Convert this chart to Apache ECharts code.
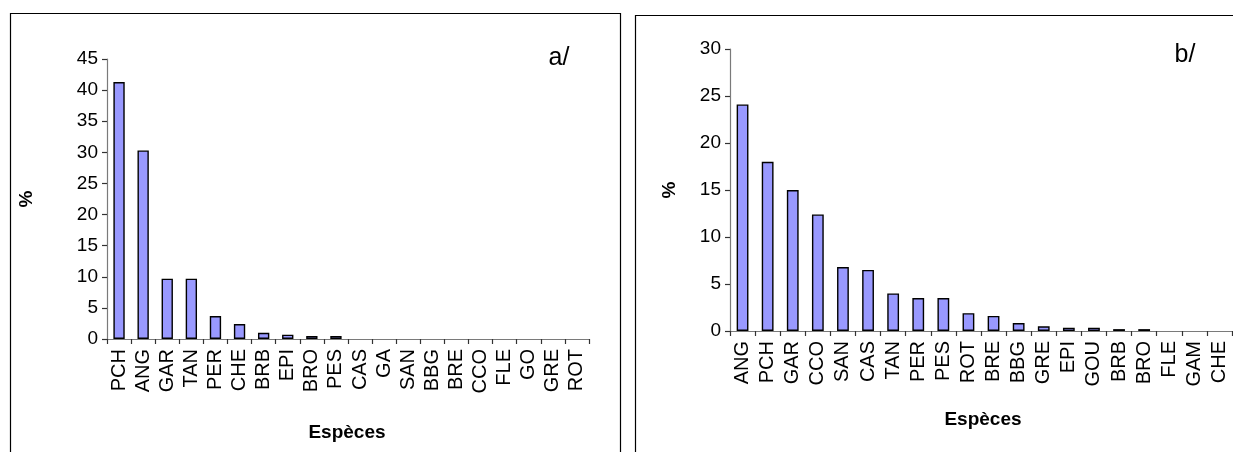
<!DOCTYPE html>
<html><head><meta charset="utf-8">
<script src="https://cdn.jsdelivr.net/npm/echarts@6/dist/echarts.min.js"></script>
<style>html,body{margin:0;padding:0;background:#fff}#c{width:1233px;height:452px}</style>
</head><body><div id="c"></div>
<script>
const categoriesA = ['PCH','ANG','GAR','TAN','PER','CHE','BRB','EPI','BRO','PES','CAS','GA','SAN','BBG','BRE','CCO','FLE','GO','GRE','ROT'];
const valuesA = [41.3, 30.3, 9.7, 9.7, 3.7, 2.4, 1.0, 0.7, 0.5, 0.5, 0, 0, 0, 0, 0, 0, 0, 0, 0, 0];
const categoriesB = ['ANG','PCH','GAR','CCO','SAN','CAS','TAN','PER','PES','ROT','BRE','BBG','GRE','EPI','GOU','BRB','BRO','FLE','GAM','CHE'];
const valuesB = [24.1, 18.0, 15.0, 12.4, 6.8, 6.5, 4.0, 3.5, 3.5, 1.9, 1.6, 0.85, 0.5, 0.35, 0.35, 0.2, 0.2, 0, 0, 0];
const yTicksA = [0,5,10,15,20,25,30,35,40,45];
const yTicksB = [0,5,10,15,20,25,30];
const panelLabels = ['a/','b/'];
const axisTitleX = 'Espèces';
const axisTitleY = '%';

const FONT = '"Liberation Sans", Arial, sans-serif';
const axisGray = '#7a7a7a';

function xAxis(idx, cats) {
  return {
    type: 'category', gridIndex: idx, data: cats,
    axisLine: {lineStyle: {color: axisGray, width: 1.2}},
    axisTick: {show: true, length: 5, lineStyle: {color: '#333', width: 1.2}},
    axisLabel: {rotate: 90, interval: 0, margin: 10, color: '#000', fontFamily: FONT, fontSize: 20}
  };
}
function yAxis(idx, ticks) {
  return {
    type: 'value', gridIndex: idx,
    min: ticks[0], max: ticks[ticks.length-1], interval: ticks[1]-ticks[0],
    axisLine: {show: true, lineStyle: {color: axisGray, width: 1.2}},
    axisTick: {show: true, length: 5, lineStyle: {color: '#333', width: 1.2}},
    splitLine: {show: false},
    axisLabel: {margin: 9, color: '#000', fontFamily: FONT, fontSize: 19}
  };
}
function bars(idx, vals) {
  return {
    type: 'bar', xAxisIndex: idx, yAxisIndex: idx, barWidth: '47%',
    data: vals.map(v => v === 0 ? {value: v, itemStyle: {borderWidth: 0}} : v),
    itemStyle: {color: '#9999FF', borderColor: '#000', borderWidth: 1.4},
    animation: false
  };
}

const chart = echarts.init(document.getElementById('c'), null, {renderer: 'canvas'});
chart.setOption({
  animation: false,
  backgroundColor: '#fff',
  grid: [
    {left: 107, top: 59, width: 482, height: 280},
    {left: 730, top: 49, width: 502, height: 282}
  ],
  xAxis: [xAxis(0, categoriesA), xAxis(1, categoriesB)],
  yAxis: [yAxis(0, yTicksA), yAxis(1, yTicksB)],
  series: [bars(0, valuesA), bars(1, valuesB)],
  graphic: [
    {type: 'rect', shape: {x: 10.5, y: 13.5, width: 610, height: 500}, style: {fill: 'none', stroke: '#000', lineWidth: 1.2}, silent: true},
    {type: 'rect', shape: {x: 635.5, y: 15.5, width: 700, height: 500}, style: {fill: 'none', stroke: '#000', lineWidth: 1.2}, silent: true},
    {type: 'text', x: 559, y: 58, style: {text: panelLabels[0], font: '25px ' + FONT, fill: '#000', textAlign: 'center', textVerticalAlign: 'middle'}},
    {type: 'text', x: 1185, y: 55, style: {text: panelLabels[1], font: '25px ' + FONT, fill: '#000', textAlign: 'center', textVerticalAlign: 'middle'}},
    {type: 'text', x: 347, y: 433, style: {text: axisTitleX, font: 'bold 19px ' + FONT, fill: '#000', textAlign: 'center', textVerticalAlign: 'middle'}},
    {type: 'text', x: 983, y: 420, style: {text: axisTitleX, font: 'bold 19px ' + FONT, fill: '#000', textAlign: 'center', textVerticalAlign: 'middle'}},
    {type: 'text', x: 27, y: 199, rotation: Math.PI/2, style: {text: axisTitleY, font: 'bold 19px ' + FONT, fill: '#000', textAlign: 'center', textVerticalAlign: 'middle'}},
    {type: 'text', x: 670, y: 190, rotation: Math.PI/2, style: {text: axisTitleY, font: 'bold 19px ' + FONT, fill: '#000', textAlign: 'center', textVerticalAlign: 'middle'}}
  ]
});
</script>
</body></html>
